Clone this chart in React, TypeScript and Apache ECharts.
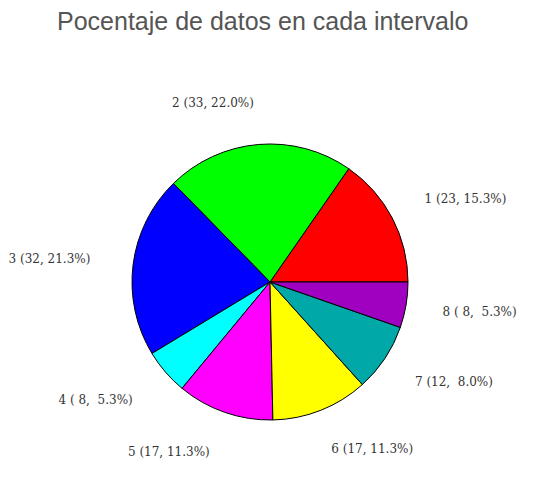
import { useEffect, useRef } from 'react';
import * as echarts from 'echarts';

const categories = ['1', '2', '3', '4', '5', '6', '7', '8'];
const counts = [23, 33, 32, 8, 17, 17, 12, 8];
const sliceColors = [
  '#ff0000',
  '#00ff00',
  '#0000ff',
  '#00ffff',
  '#ff00ff',
  '#ffff00',
  '#00a8a8',
  '#a000c0',
];

const total = counts.reduce((a, b) => a + b, 0);

// R-style label: "8 ( 8,  5.3%)"
const pad = (s: string, n: number) => (s.length >= n ? s : ' '.repeat(n - s.length) + s);
const labelText = (i: number) => {
  const pct = ((counts[i] / total) * 100).toFixed(1);
  return `${categories[i]} (${pad(String(counts[i]), 2)}, ${pad(pct, 4)}%)`;
};

export default function App() {
  const chartRef = useRef<HTMLDivElement>(null);

  useEffect(() => {
    document.body.style.margin = '0';
    if (!chartRef.current) return;
    const chart = echarts.init(chartRef.current, undefined, { renderer: 'svg' });

    chart.setOption({
      animation: false,
      backgroundColor: '#ffffff',
      title: {
        text: 'Pocentaje de datos en cada intervalo',
        left: 52,
        top: 3,
        textStyle: {
          fontFamily: 'Liberation Sans, Arial, sans-serif',
          fontSize: 25,
          fontWeight: 'normal',
          color: '#555555',
        },
      },
      series: [
        {
          type: 'pie',
          center: [270, 282],
          radius: 138,
          startAngle: 0,
          clockwise: false,
          avoidLabelOverlap: false,
          itemStyle: {
            borderColor: '#000000',
            borderWidth: 1,
          },
          label: {
            show: true,
            position: 'outside',
            distanceToLabelLine: 0,
            formatter: (p: any) => labelText(p.dataIndex),
            fontFamily: 'DejaVu Serif, serif',
            fontSize: 12,
            color: '#333333',
          },
          labelLine: {
            show: false,
            length: 42,
            length2: 0,
          },
          // nudge right-hand labels in a little, left-hand ones stay put
          labelLayout: (p: any) => ({ dx: p.align === 'left' ? -5 : -1 }),
          emphasis: { disabled: true },
          data: categories.map((name, i) => ({
            name,
            value: counts[i],
            itemStyle: { color: sliceColors[i] },
          })),
        },
      ],
    });

    return () => {
      chart.dispose();
    };
  }, []);

  return <div ref={chartRef} style={{ width: 539, height: 480 }} />;
}
